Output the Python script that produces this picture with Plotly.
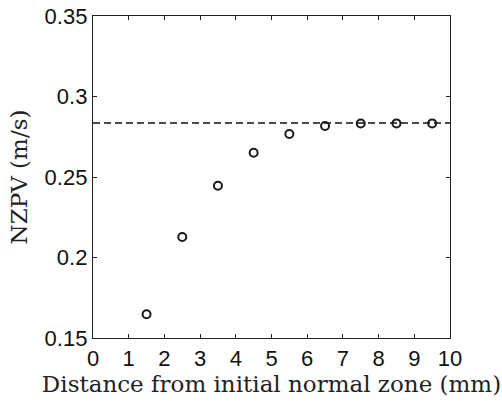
import plotly.graph_objects as go

distance_mm = [1.5, 2.5, 3.5, 4.5, 5.5, 6.5, 7.5, 8.5, 9.5]
nzpv = [0.1647, 0.2127, 0.2446, 0.2651, 0.2767, 0.2817, 0.2832, 0.2833, 0.2833]
asymptote_x = [0, 10]
asymptote_y = [0.2835, 0.2835]
x_ticks = [0, 1, 2, 3, 4, 5, 6, 7, 8, 9, 10]
y_ticks = [0.15, 0.2, 0.25, 0.3, 0.35]
y_tick_labels = ["0.15", "0.2", "0.25", "0.3", "0.35"]

fig = go.Figure()
fig.add_trace(go.Scatter(x=asymptote_x, y=asymptote_y, mode="lines",
                         line=dict(color="#111", width=1.6, dash="7px,4px"),
                         showlegend=False, hoverinfo="skip"))
fig.add_trace(go.Scatter(x=distance_mm, y=nzpv, mode="markers",
                         marker=dict(symbol="circle-open", size=8, color="#1a1a1a",
                                     line=dict(width=2, color="#1a1a1a")),
                         showlegend=False))

axis_common = dict(showline=True, linecolor="#222", linewidth=1.3, mirror="ticks",
                   ticks="inside", ticklen=4, tickcolor="#222", tickwidth=1,
                   showgrid=False, zeroline=False, automargin=False,
                   ticklabeloverflow="allow",
                   tickfont=dict(family="Liberation Sans, Arial", size=22, color="#111"))

title_font = dict(family="DejaVu Serif", size=23, color="#222")

fig.update_layout(
    width=502, height=406,
    margin=dict(l=93, r=52, t=16, b=68),
    paper_bgcolor="white", plot_bgcolor="white",
    xaxis=dict(range=[0, 10], tickvals=x_ticks, ticktext=[str(t) for t in x_ticks],
               title=dict(text="Distance from initial normal zone (mm)",
                          font=title_font, standoff=6),
               **axis_common),
    yaxis=dict(range=[0.15, 0.35], tickvals=y_ticks, ticktext=y_tick_labels,
               title=dict(text="NZPV (m/s)", font=title_font, standoff=10),
               **axis_common),
)
fig.write_html("out.html", config={"displayModeBar": False},
               post_script="document.body.style.margin='0';document.body.style.overflow='hidden';")
